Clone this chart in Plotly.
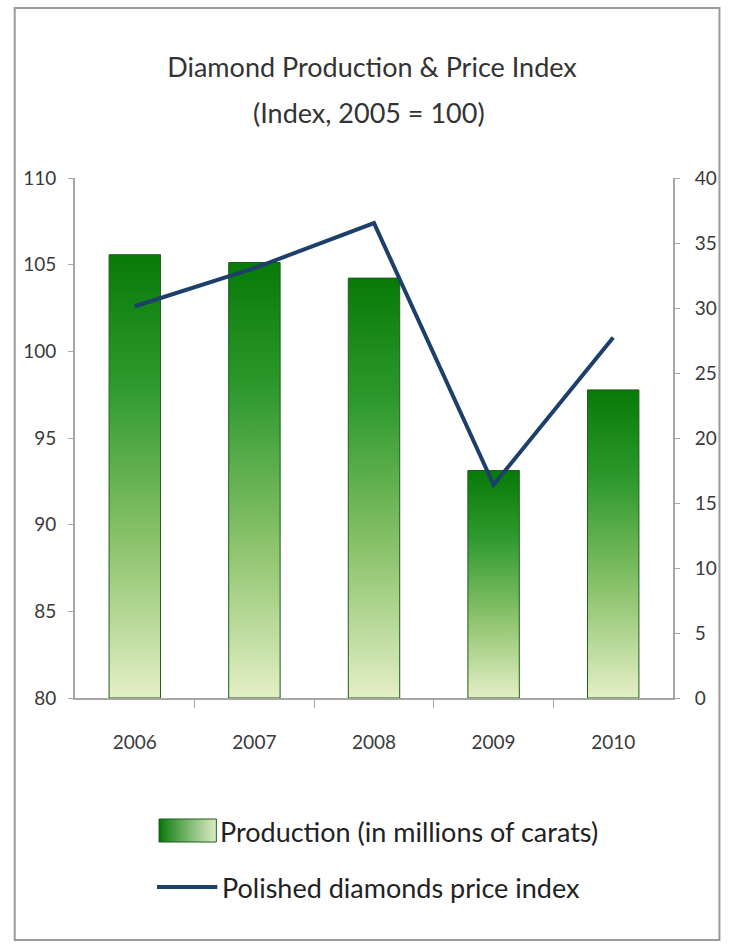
import plotly.graph_objects as go

years = ["2006", "2007", "2008", "2009", "2010"]
production = [34.1, 33.5, 32.3, 17.5, 23.7]          # millions of carats (right axis)
price_index = [102.6, 104.8, 107.4, 92.3, 100.8]     # index, 2005 = 100 (left axis)
left_ticks = [80, 85, 90, 95, 100, 105, 110]
right_ticks = [0, 5, 10, 15, 20, 25, 30, 35, 40]
prod_name = "Production (in millions of carats)"
price_name = "Polished diamonds price index"

FONT = "Lato, 'Open Sans', 'DejaVu Sans', sans-serif"
TXT = "#3a3a3a"
AX = "#a6a6a6"
NAVY = "#1d3f6b"
HALF = 0.215
GRAD = [[0, "#e4efc6"], [0.35, "#8cc36c"], [0.7, "#2f9a2f"], [1, "#077a07"]]

# plot-area pixel geometry
L, R, T, B, W, H = 75, 49, 178, 246, 729, 944
PW, PH = W - L - R, H - T - B


def px(x):
    return (x - L) / PW


def py(y):
    return (H - B - y) / PH


def mix(c1, c2, t):
    a = [int(c1[i:i + 2], 16) for i in (1, 3, 5)]
    b = [int(c2[i:i + 2], 16) for i in (1, 3, 5)]
    return "#" + "".join("%02x" % round(a[j] + (b[j] - a[j]) * t) for j in range(3))


fig = go.Figure()

for i, v in enumerate(production):
    fig.add_trace(go.Scatter(
        x=[i - HALF, i + HALF, i + HALF, i - HALF, i - HALF],
        y=[0, 0, v, v, 0],
        mode="lines",
        fill="toself",
        fillgradient=dict(type="vertical", colorscale=GRAD),
        line=dict(color="#1c5e1c", width=1),
        name=prod_name,
        showlegend=False,
        yaxis="y",
        hoverinfo="skip",
    ))

fig.add_trace(go.Scatter(
    x=list(range(len(years))),
    y=price_index,
    mode="lines",
    line=dict(color=NAVY, width=4),
    name=price_name,
    showlegend=False,
    yaxis="y2",
))

# ---- hand-drawn legend (swatches + real text) ----
shapes = []
n = 20
x0, x1, y0, y1 = 160, 218, 819, 842
step = (x1 - x0) / n
for k in range(n):
    c = mix("#0a7a0a", "#d8e9c2", (k / (n - 1)) ** 0.9)
    xa = x0 + k * step
    xb = min(x1, xa + step + 1.5)
    shapes.append(dict(type="rect", xref="paper", yref="paper",
                       x0=px(xa), x1=px(xb), y0=py(y1), y1=py(y0),
                       line=dict(width=0), fillcolor=c))
shapes.append(dict(type="rect", xref="paper", yref="paper",
                   x0=px(x0), x1=px(x1), y0=py(y1), y1=py(y0),
                   line=dict(color="#1c5e1c", width=1), fillcolor="rgba(0,0,0,0)"))
shapes.append(dict(type="line", xref="paper", yref="paper",
                   x0=px(158), x1=px(219), y0=py(887), y1=py(887),
                   line=dict(color=NAVY, width=4)))
# chart frame
shapes.append(dict(type="rect", xref="paper", yref="paper",
                   x0=px(14), x1=px(727), y0=py(940), y1=py(8),
                   line=dict(color="#9a9a9a", width=2),
                   fillcolor="rgba(0,0,0,0)", layer="below"))

annotations = [
    dict(text="(Index, 2005 = 100)", xref="paper", yref="paper",
         x=px(372), y=py(112), xanchor="center", yanchor="middle",
         showarrow=False, font=dict(size=27, color="#333333", family=FONT)),
    dict(text=prod_name, xref="paper", yref="paper",
         x=px(220), y=py(831), xanchor="left", yanchor="middle",
         showarrow=False, font=dict(size=27, color="#222222", family=FONT)),
    dict(text=price_name, xref="paper", yref="paper",
         x=px(222), y=py(887), xanchor="left", yanchor="middle",
         showarrow=False, font=dict(size=27, color="#222222", family=FONT)),
]

fig.update_layout(
    width=W, height=H,
    paper_bgcolor="white", plot_bgcolor="white",
    margin=dict(l=L, r=R, t=T, b=B),
    font=dict(family=FONT, color=TXT),
    showlegend=False,
    title=dict(
        text="Diamond Production &amp; Price Index",
        x=372 / W, xanchor="center",
        y=1 - 68 / H, yanchor="middle", yref="container",
        font=dict(size=27, color="#333333", family=FONT),
    ),
    annotations=annotations,
    shapes=shapes,
    xaxis=dict(
        range=[-0.5, 4.5], tickmode="array",
        tickvals=list(range(len(years))), ticktext=years,
        ticks="", showline=True, linecolor=AX, linewidth=2,
        showgrid=False, zeroline=False,
        tickfont=dict(size=19, color=TXT),
        ticklabelstandoff=26,
        minor=dict(tickmode="array", tickvals=[0.5, 1.5, 2.5, 3.5],
                   ticks="outside", ticklen=8, tickcolor=AX, tickwidth=1),
    ),
    yaxis=dict(
        side="right", range=[0, 40], tickvals=right_ticks,
        showline=True, linecolor=AX, linewidth=2,
        ticks="outside", ticklen=5, tickcolor=AX,
        showgrid=False, zeroline=False,
        tickfont=dict(size=19, color=TXT),
        ticklabelstandoff=11,
    ),
    yaxis2=dict(
        side="left", overlaying="y", range=[80, 110], tickvals=left_ticks,
        showline=True, linecolor=AX, linewidth=2,
        ticks="outside", ticklen=5, tickcolor=AX,
        showgrid=False, zeroline=False,
        tickfont=dict(size=19, color=TXT),
        ticklabelstandoff=8,
    ),
)

fig.write_html(
    "out.html",
    config={"displayModeBar": False},
    post_script="document.body.style.margin='0';document.body.style.overflow='hidden';",
)
